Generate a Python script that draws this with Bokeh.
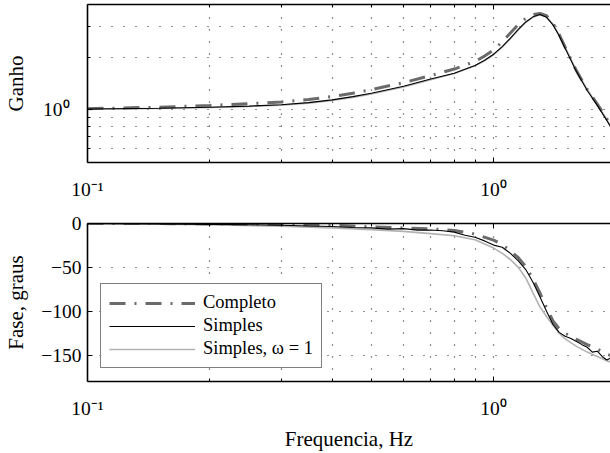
from bokeh.plotting import figure
from bokeh.layouts import column
from bokeh.models import (Range1d, FixedTicker, LogAxis, Legend, LegendItem,
                          CustomJSTickFormatter)
from bokeh.embed import file_html
from bokeh.resources import INLINE

FONT = "Liberation Serif"

# ---------------- data ----------------
gain_freq = [0.1, 0.15, 0.2, 0.25, 0.3, 0.35, 0.4, 0.45, 0.5, 0.6, 0.7, 0.8, 0.9, 0.95,
             1.0, 1.05, 1.1, 1.15, 1.2, 1.25, 1.3, 1.35, 1.4, 1.45, 1.5, 1.6, 1.7, 1.8,
             1.9, 2.0]
gain_completo = [1.015, 1.035, 1.06, 1.085, 1.11, 1.145, 1.19, 1.245, 1.305, 1.43,
                 1.57, 1.71, 1.89, 2.03, 2.2, 2.45, 2.75, 3.07, 3.33, 3.50,
                 3.56, 3.45, 3.13, 2.70, 2.28, 1.67, 1.31, 1.08, 0.89, 0.73]
gain_simples = [1.012, 1.022, 1.035, 1.05, 1.07, 1.10, 1.14, 1.19, 1.245, 1.365,
                1.50, 1.62, 1.79, 1.92, 2.08, 2.30, 2.57, 2.88, 3.18, 3.40,
                3.51, 3.38, 3.06, 2.65, 2.25, 1.65, 1.29, 1.06, 0.87, 0.71]
gain_simples_w1 = [1.010, 1.019, 1.031, 1.045, 1.064, 1.092, 1.13, 1.178, 1.232, 1.35,
                   1.485, 1.615, 1.785, 1.905, 2.06, 2.28, 2.55, 2.86, 3.16, 3.38,
                   3.50, 3.39, 3.08, 2.68, 2.28, 1.67, 1.31, 1.07, 0.88, 0.72]

phase_freq = [0.1, 0.15, 0.2, 0.3, 0.4, 0.5, 0.6, 0.7, 0.8, 0.9, 1.0, 1.05, 1.1, 1.15,
              1.2, 1.25, 1.3, 1.35, 1.4, 1.45, 1.5, 1.6, 1.7, 1.8, 1.9, 2.0]
phase_completo = [0.0, 0.0, -0.5, -1.0, -2.0, -3.8, -5.0, -6.0, -8.0, -12.0, -19.0, -24.0,
                  -31.0, -39.0, -49.0, -63.0, -79.0, -96.0, -111.0, -120.0, -125.0, -132.0,
                  -138.0, -143.0, -149.0, -152.0]
phase_simples_w1 = [-0.3, -0.8, -1.5, -3.0, -5.0, -7.0, -9.0, -11.5, -14.0, -18.5, -28.0,
                    -34.0, -41.0, -50.0, -62.0, -79.0, -95.0, -106.0, -116.0, -125.0, -131.5,
                    -140.0, -146.5, -151.5, -156.5, -160.0]

phase_freq_simples = [0.1, 0.15, 0.2, 0.25, 0.3, 0.35, 0.4, 0.45, 0.5, 0.55, 0.6, 0.65, 0.7,
                      0.75, 0.8, 0.85, 0.9, 0.95, 1.0, 1.05, 1.1, 1.15, 1.2, 1.25, 1.3, 1.35,
                      1.4, 1.45, 1.5, 1.55, 1.6, 1.65, 1.7, 1.75, 1.8, 1.85, 1.9, 1.95, 2.0]
phase_simples = [0.0, -0.5, -1.0, -1.4, -2.0, -2.9, -3.5, -4.6, -5.0, -6.4, -5.8, -7.6, -7.4,
                 -8.2, -9.8, -13.4, -15.6, -19.8, -24.6, -27.0, -34.0, -42.5, -52.5, -67.0,
                 -83.5, -100.0, -115.0, -124.0, -128.5, -131.0, -134.5, -138.0, -141.0,
                 -146.5, -145.5, -151.5, -155.5, -153.0, -156.0]

x_ticks_major = [0.1, 1.0]
x_tick_labels = ["10\u207b\u00b9", "10\u2070"]
x_ticks_minor = [0.2, 0.3, 0.4, 0.5, 0.6, 0.7, 0.8, 0.9, 2.0]
gain_ticks_major = [1.0]
gain_tick_labels = ["10\u2070"]
gain_ticks_minor = [0.5, 0.6, 0.7, 0.8, 0.9, 2.0, 3.0, 4.0]
phase_ticks = [-150, -100, -50, 0]
phase_tick_labels = ["\u2212150", "\u2212100", "\u221250", "0"]
series_labels = ["Completo", "Simples", "Simples, \u03c9 = 1"]
x_title = "Frequencia, Hz"
gain_title = "Ganho"
phase_title = "Fase, graus"

C_COMP = "#6b6b6b"
C_SIMP = "#000000"
C_W1 = "#b2b2b2"
GRID = "#222222"

x_range = Range1d(0.1, 1.94)


def label_formatter(tvals, tlabels, uselog):
    code = """
    for (let i = 0; i < tvals.length; i++) {
        const a = uselog ? Math.log10(tick) : tick;
        const b = uselog ? Math.log10(tvals[i]) : tvals[i];
        if (Math.abs(a - b) < 1e-6) { return tlabels[i]; }
    }
    return '';
    """
    return CustomJSTickFormatter(args=dict(tvals=tvals, tlabels=tlabels, uselog=uselog),
                                 code=code)


def style_axis(ax, ticker, formatter=None, standoff=0):
    ax.ticker = ticker
    ax.formatter = formatter if formatter is not None else CustomJSTickFormatter(code="return ''")
    ax.major_label_standoff = standoff
    ax.major_label_text_font = FONT
    ax.major_label_text_font_size = "19.5px"
    ax.major_label_text_color = "black"
    ax.axis_label_text_font = FONT
    ax.axis_label_text_font_size = "21px"
    ax.axis_label_text_font_style = "normal"
    ax.axis_label_text_color = "black"
    ax.axis_line_color = "black"
    ax.axis_line_width = 1.6
    ax.major_tick_in = 5
    ax.major_tick_out = 0
    ax.minor_tick_in = 3
    ax.minor_tick_out = 0
    ax.major_tick_line_color = "black"
    ax.minor_tick_line_color = "black"


def dotted(g, minor=True):
    g.grid_line_color = GRID
    g.grid_line_dash = "1 11"
    g.grid_line_width = 1.2
    if minor:
        g.minor_grid_line_color = GRID
        g.minor_grid_line_dash = "1 11"
        g.minor_grid_line_width = 1.2


def make_fig(height, y_type, y_range, top, bottom):
    p = figure(width=610, height=height, x_axis_type="log", y_axis_type=y_type,
               x_range=x_range, y_range=y_range, output_backend="svg",
               toolbar_location=None, min_border_left=86, min_border_right=0,
               min_border_top=top, min_border_bottom=bottom)
    p.outline_line_color = None
    p.background_fill_color = "white"
    p.border_fill_color = "white"
    xt = FixedTicker(ticks=x_ticks_major, minor_ticks=x_ticks_minor)
    bottom_ax = p.below[0]
    style_axis(bottom_ax, xt, label_formatter(x_ticks_major, x_tick_labels, True), 16)
    p.xgrid[0].ticker = xt
    top_ax = LogAxis()
    style_axis(top_ax, xt)
    top_ax.major_label_text_font_size = "0px"
    p.add_layout(top_ax, "above")
    dotted(p.xgrid[0])
    return p, bottom_ax, p.left[0]


# ---------------- top: gain ----------------
p1, p1_bottom, p1_left = make_fig(210, "log", Range1d(0.5, 4.0), 4, 48)
gt = FixedTicker(ticks=gain_ticks_major, minor_ticks=gain_ticks_minor)
style_axis(p1_left, gt, label_formatter(gain_ticks_major, gain_tick_labels, True), 18)
p1_left.axis_label = gain_title
p1_left.axis_label_standoff = 12
p1.ygrid[0].ticker = gt
dotted(p1.ygrid[0])

p1.line(gain_freq, gain_simples_w1, line_color=C_W1, line_width=1.6)
p1.line(gain_freq, gain_completo, line_color=C_COMP, line_width=3, line_dash="16 9 2 9")
p1.line(gain_freq, gain_simples, line_color=C_SIMP, line_width=1.1)

# ---------------- bottom: phase ----------------
p2, p2_bottom, p2_left = make_fig(243, "linear", Range1d(-180, 0), 13, 71)
pt = FixedTicker(ticks=phase_ticks, minor_ticks=[])
style_axis(p2_left, pt, label_formatter(phase_ticks, phase_tick_labels, False), 6)
p2_left.axis_label = phase_title
p2_left.axis_label_standoff = 10
p2.ygrid[0].ticker = pt
dotted(p2.ygrid[0], minor=False)
p2_bottom.axis_label = x_title
p2_bottom.axis_label_standoff = 5

r_w1 = p2.line(phase_freq, phase_simples_w1, line_color=C_W1, line_width=1.6)
r_comp = p2.line(phase_freq, phase_completo, line_color=C_COMP, line_width=3,
                 line_dash="16 9 2 9")
r_simp = p2.line(phase_freq_simples, phase_simples, line_color=C_SIMP, line_width=1.1)

legend = Legend(items=[LegendItem(label=series_labels[0], renderers=[r_comp]),
                       LegendItem(label=series_labels[1], renderers=[r_simp]),
                       LegendItem(label=series_labels[2], renderers=[r_w1])],
                location=(13, 13))
legend.label_text_font = FONT
legend.label_text_font_size = "18.5px"
legend.label_text_color = "black"
legend.glyph_width = 86
legend.glyph_height = 20
legend.label_height = 20
legend.label_standoff = 8
legend.spacing = 2
legend.padding = 8
legend.margin = 0
legend.border_line_color = "black"
legend.border_line_width = 1.5
legend.background_fill_color = "white"
legend.background_fill_alpha = 1.0
p2.add_layout(legend)

layout = column(p1, p2, spacing=0)
open("out.html", "w").write(file_html(layout, INLINE))
